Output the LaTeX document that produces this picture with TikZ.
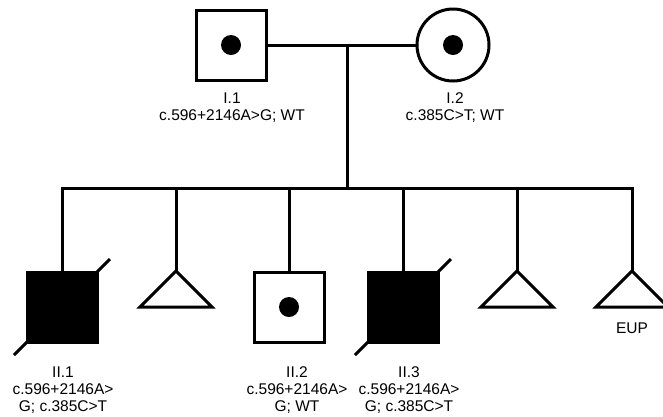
\documentclass[tikz,border=0pt]{standalone}
\usepackage{fontspec}
\setmainfont{Liberation Sans}
\begin{document}
\begin{tikzpicture}[x=1pt,y=-1pt,
  line width=3pt, line join=miter,
  male/.style={draw, rectangle, minimum size=70pt, inner sep=0pt, line width=3pt},
  female/.style={draw, circle, minimum size=72pt, inner sep=0pt, line width=3pt},
  affected/.style={fill=black},
  carrier/.style={circle, fill=black, draw=none, minimum size=20pt, inner sep=0pt},
  lbl/.style={align=center, font=\fontsize{15.5}{17}\selectfont, inner sep=0pt}
]
\useasboundingbox (0,0) rectangle (663,416);
\clip (0,0) rectangle (663,416);
% generation I
\node[male] (I1) at (231,45) {};
\node[carrier] (I1d) at (I1.center) {};
\node[female] (I2) at (453,45) {};
\node[carrier] (I2d) at (I2.center) {};
\draw (I1) -- (I2);
\coordinate (m) at (347,45);
\coordinate (s) at (347,188);
\draw (m) -- (s);
\node[lbl, anchor=north] (L1) at (232,91.5) {I.1\\c.596+2146A>G; WT};
\node[lbl, anchor=north] (L2) at (455,91.5) {I.2\\c.385C>T; WT};
% generation II
\node[male, affected] (II1) at (62,307) {};
\node[male] (II2) at (289,307) {};
\node[carrier] (II2d) at (II2.center) {};
\node[male, affected] (II3) at (403,307) {};
\coordinate (t1) at (176,271);
\coordinate (t2) at (517,271);
\coordinate (t3) at (632,271);
\coordinate (sl) at (62,188);
\coordinate (sr) at (632,188);
\draw (II1.north) -- (sl) -- (sr) -- (t3);
\draw (II2.north |- sl) -- (II2.north);
\draw (II3.north |- sl) -- (II3.north);
\draw (t1 |- sl) -- (t1);
\draw (t2 |- sl) -- (t2);
\foreach \t in {t1,t2,t3}{
  \draw (\t) -- ++(-36,36) -- ++(72,0) -- cycle;
}
% deceased slashes
\draw ([shift={(-48,48)}]II1.center) -- ([shift={(48,-48)}]II1.center);
\draw ([shift={(-48,48)}]II3.center) -- ([shift={(48,-48)}]II3.center);
% labels
\node[lbl, anchor=north] (L3) at (63,365.5) {II.1\\c.596+2146A>\\G; c.385C>T};
\node[lbl, anchor=north] (L4) at (297,365.5) {II.2\\c.596+2146A>\\G; WT};
\node[lbl, anchor=north] (L5) at (409,365.5) {II.3\\c.596+2146A>\\G; c.385C>T};
\node[lbl] (L6) at (632,328) {EUP};
\end{tikzpicture}
\end{document}
